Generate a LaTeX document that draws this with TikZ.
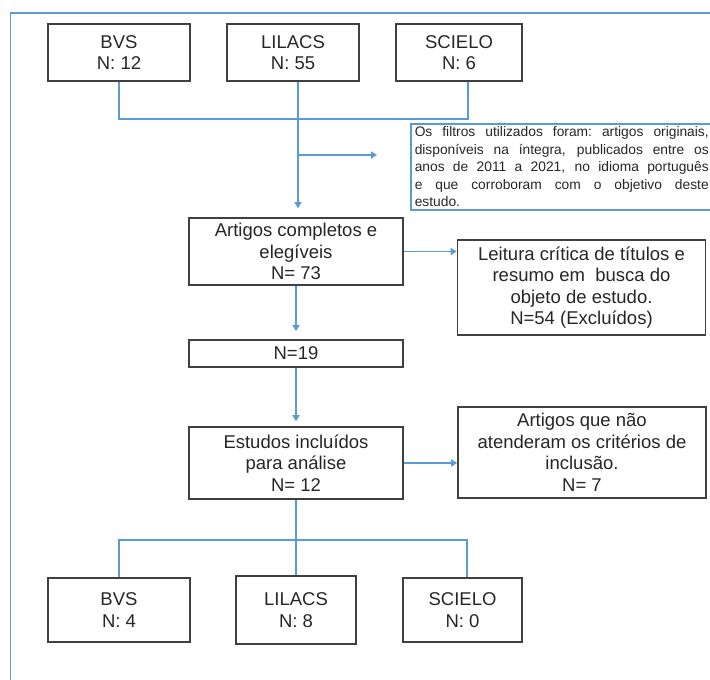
\documentclass[tikz,border=0pt]{standalone}
\usepackage{fontspec}
\setmainfont{Liberation Sans}
\usepackage{tikz}
\usetikzlibrary{positioning,arrows.meta}
\definecolor{linkblue}{RGB}{91,155,213}
\newcommand{\justline}[1]{\makebox[294pt][s]{\spaceskip=0.28em plus 2em\relax\xspaceskip=\spaceskip #1}}
\tikzset{
    base/.style = {rectangle, draw = black!75, line width = 1.6pt, align = center, inner sep = 0pt, text = black!85, font = \fontsize{18.5}{21.5}\selectfont},
    source/.style = {base, minimum height = 57pt},
    result/.style = {base, minimum height = 64pt},
    stage/.style = {base, minimum width = 214pt},
    excluded/.style = {base, minimum width = 248pt},
    filters/.style = {rectangle, draw = linkblue, line width = 1.5pt, text width = 294pt, align = left, inner xsep = 4pt, inner ysep = 3pt, text = black!85, font = \fontsize{13.8}{17.5}\selectfont, anchor = north west},
    link/.style = {draw = linkblue, line width = 1.5pt},
    flow/.style = {link, -{Triangle[length = 6pt, width = 7pt]}}
}

\begin{document}
\begin{tikzpicture}[x = 1pt, y = -1pt]
        \useasboundingbox (0,0) rectangle (710,680);
        \draw [link] (10.5,680) -- (10.5,13) -- (712,13);
        \node [source, minimum width = 142pt] (s1) at (119,52.5) {BVS\\N: 12};
        \node [source, minimum width = 132pt] (s2) at (293,52.5) {LILACS\\N: 55};
        \node [source, minimum width = 126pt] (s3) at (459,52.5) {SCIELO\\N: 6};
        \node [filters] (f) at (410,123) {\justline{Os filtros utilizados foram: artigos originais,}\\
            \justline{disponíveis na íntegra, publicados entre os}\\
            \justline{anos de 2011 a 2021, no idioma português}\\
            \justline{e que corroboram com o objetivo deste}\\
            estudo.};
        \node [stage, minimum height = 67pt] (a1) at (296,251.5) {Artigos completos e\\elegíveis\\N= 73};
        \node [excluded, minimum height = 95pt] (e1) at (581.5,287.5) {Leitura crítica de títulos e\\resumo em\ \ busca do\\objeto de estudo.\\N=54 (Excluídos)};
        \node [stage, minimum height = 27pt] (a2) at (296,353.5) {N=19};
        \node [stage, minimum height = 72pt] (a3) at (296,463) {Estudos incluídos\\para análise\\N= 12};
        \node [excluded, minimum height = 91pt] (e2) at (582,452.5) {Artigos que não\\atenderam os critérios de\\inclusão.\\N= 7};
        \node [result, minimum width = 142pt] (r1) at (119,610) {BVS\\N: 4};
        \node [result, minimum width = 120pt, minimum height = 68pt] (r2) at (296,610) {LILACS\\N: 8};
        \node [result, minimum width = 119pt] (r3) at (462.5,610) {SCIELO\\N: 0};
        \coordinate (j1) at (298,119);
        \coordinate (c3) at (468,119);
        \coordinate (fork) at (298,155);
        \coordinate (tip) at (377,155);
        \coordinate (c4) at (467,540);
        \draw [link] (s1.south) |- (c3) -- (c3 |- s3.south);
        \draw [link] (s2.south -| j1) -- (j1);
        \draw [flow, shorten >= 9pt] (j1) -- (j1 |- a1.north);
        \draw [flow] (fork) -- (tip);
        \draw [flow] (a1.east) -- (a1.east -| e1.west);
        \draw [flow, shorten >= 8pt] (a1.south) -- (a2.north);
        \draw [flow, shorten >= 5pt] (a2.south) -- (a3.north);
        \draw [flow] (a3.east) -- (a3.east -| e2.west);
        \draw [link] (a3.south) -- (r2.north);
        \draw [link] (r1.north) |- (c4) -- (c4 |- r3.north);
    \end{tikzpicture}
\end{document}
